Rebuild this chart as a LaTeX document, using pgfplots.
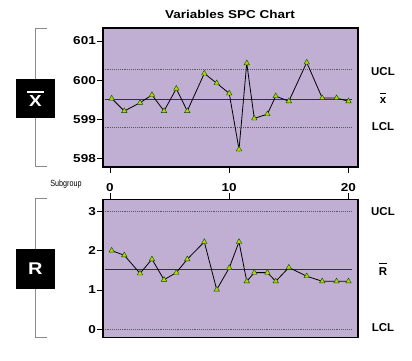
\documentclass[border=0pt]{standalone}
\usepackage{fontspec}
\setmainfont{Liberation Sans}
\newfontfamily\blk{Liberation Sans}[FakeStretch=1.18]
\newfontfamily\cond{Liberation Sans}[FakeStretch=0.8]
\usepackage{pgfplots}
\pgfplotsset{compat=1.18}
\definecolor{bg}{HTML}{C1AED3}
\definecolor{mk}{HTML}{B8D400}
\definecolor{brk}{HTML}{8A8A8A}
\pgfplotsset{
  spc/.style={
    scale only axis, width=255bp,
    xmin=-0.587, xmax=20.8,
    axis background/.style={fill=bg},
    axis line style={line width=1.1pt, black},
    tick align=outside, major tick length=6bp,
    tick style={black, line width=0.8pt},
    ytick pos=left,
    /pgf/number format/assume math mode=true,
    ticklabel style={font=\blk\bfseries\fontsize{11.5}{12}\selectfont},
    yticklabel style={inner sep=1pt},
    xtick={0,10,20},
  },
  dat/.style={black, line width=0.8pt, mark=triangle*, mark size=3.2pt,
    mark options={fill=mk, draw=black!70!green, line width=0.4pt}},
  lim/.style={densely dotted, black!65, line width=0.9pt},
  ctr/.style={black!80, line width=1.1pt},
}
\begin{document}
\begin{tikzpicture}[x=1bp,y=1bp]
\useasboundingbox (0,0) rectangle (412,361);
% top X-bar chart
\begin{axis}[spc, at={(103bp,194bp)}, anchor=south west, height=139bp,
  ymin=597.78, ymax=601.33, ytick={598,599,600,601},
  xtick pos=lower, xticklabels={}]
\addplot[lim] coordinates {(-0.45,600.26) (20.3,600.26)};
\addplot[lim] coordinates {(-0.45,598.79) (20.3,598.79)};
\addplot[ctr] coordinates {(-0.45,599.51) (20.3,599.51)};
\addplot[dat] coordinates {
(0.14,599.53) (1.2,599.21) (2.52,599.42) (3.52,599.62) (4.53,599.21)
(5.56,599.78) (6.48,599.21) (7.91,600.17) (8.95,599.92) (10.0,599.66)
(10.82,598.23) (11.47,600.43) (12.1,599.02) (13.2,599.13) (13.9,599.59)
(15.0,599.46) (16.5,600.45) (17.8,599.54) (19.0,599.54) (20.0,599.46)};
\end{axis}
% bottom R chart
\begin{axis}[spc, at={(103bp,23.7bp)}, anchor=south west, height=138bp,
  ymin=-0.2, ymax=3.3, ytick={0,1,2,3},
  xtick pos=upper, xticklabel pos=upper,
  xticklabel style={inner sep=1pt}]
\addplot[lim] coordinates {(-0.45,3) (20.3,3)};
\addplot[lim] coordinates {(-0.45,0) (20.3,0)};
\addplot[ctr] coordinates {(-0.45,1.52) (20.3,1.52)};
\addplot[dat] coordinates {
(0.14,2.0) (1.2,1.88) (2.52,1.42) (3.52,1.78) (4.53,1.26)
(5.56,1.44) (6.48,1.78) (7.91,2.22) (8.95,1.01) (10.0,1.56)
(10.82,2.22) (11.47,1.22) (12.1,1.44) (13.2,1.44) (13.9,1.22)
(15.0,1.57) (16.5,1.35) (17.8,1.22) (19.0,1.22) (20.0,1.22)};
\end{axis}
% title
\node[font=\blk\bfseries\fontsize{11.5}{12}\selectfont] at (230,347) {Variables SPC Chart};
\node[font=\cond\fontsize{9}{10}\selectfont] at (66,177) {Subgroup};
% brackets
\draw[brk, line width=1pt] (47,333) -- (35,333) -- (35,282);
\draw[brk, line width=1pt] (35,243) -- (35,195) -- (47,195);
\draw[brk, line width=1pt] (47,163) -- (35,163) -- (35,112);
\draw[brk, line width=1pt] (35,72) -- (35,24) -- (47,24);
% boxes
\fill[black] (15.7,243) rectangle (55,282);
\fill[black] (15.7,72) rectangle (55,112);
\node[white, font=\blk\bfseries\fontsize{16}{16}\selectfont, inner sep=0pt] at (35.3,259.5) {X};
\fill[white] (26.5,268) rectangle (44,270.3);
\node[white, font=\blk\bfseries\fontsize{17}{17}\selectfont, inner sep=0pt] at (35.3,92) {R};
% right labels
\begin{scope}[font=\bfseries\fontsize{11.5}{12}\selectfont]
\node at (383,289) {UCL};
\node at (383,261) {x};
\draw[black, line width=0.9pt] (380,268) -- (386,268);
\node at (383,234) {LCL};
\node at (383,149) {UCL};
\node at (383,89) {R};
\draw[black, line width=0.9pt] (379,98) -- (387,98);
\node at (383,33) {LCL};
\end{scope}
\end{tikzpicture}
\end{document}
